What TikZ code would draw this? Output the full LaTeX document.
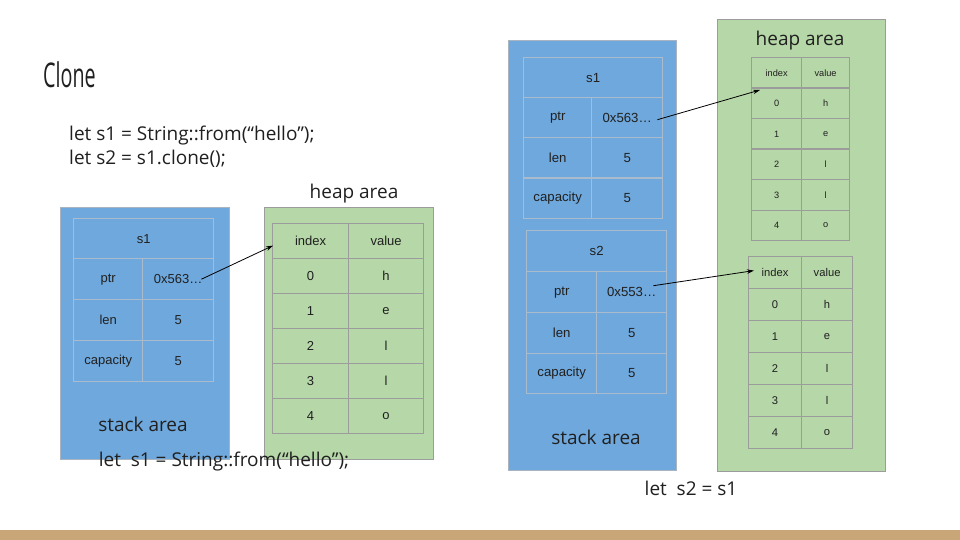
\documentclass[tikz,border=0pt]{standalone}
\usepackage{fontspec}
\setmainfont{Open Sans}
\newfontfamily\arialfont{Liberation Sans}
\newfontfamily\titlefont[FakeStretch=0.58]{Open Sans}
\usetikzlibrary{arrows.meta}
\definecolor{stackblue}{HTML}{6FA8DC}
\definecolor{heapgreen}{HTML}{B6D7A8}
\definecolor{cellgray}{HTML}{9C9C9C}
\definecolor{stackline}{HTML}{A9BBCC}
\definecolor{boxgray}{HTML}{A8B4C0}
\definecolor{bartan}{HTML}{C9A677}
\definecolor{txt}{HTML}{202020}
\newcommand\cellat[6]{\node[cell,minimum width=#4,minimum height=#5] (#1) at (#2,#3) {#6};}
\begin{document}
\begin{tikzpicture}[x=1pt,y=-1pt,
  cell/.style={draw=cellgray, line width=1.2pt, inner sep=0pt, anchor=north west, text=txt},
  stackcells/.style={cell/.append style={draw=stackline, line width=1.4pt}},
  stackbox/.style={draw=boxgray, line width=0.8pt, fill=stackblue, anchor=north west, inner sep=0pt},
  heapbox/.style={draw=cellgray, line width=0.8pt, fill=heapgreen, anchor=north west, inner sep=0pt},
  lbl/.style={inner sep=0pt, text=txt, font=\fontsize{19}{20}\selectfont},
  ptrarrow/.style={draw=black, line width=0.8pt, -{Stealth[length=7pt,width=4.5pt]}}
]
\useasboundingbox (0,0) rectangle (960,540);
\fill[white] (0,0) rectangle (960,540);

% title and code
\node[inner sep=0pt, anchor=west, text=txt, font=\titlefont\fontsize{34}{36}\selectfont] (title) at (43,75) {Clone};
\node[inner sep=0pt, anchor=north west, align=left, text=txt, font=\fontsize{19}{24}\selectfont] (code) at (69,126) {let s1 = String::from(“hello”);\\let s2 = s1.clone();};

% ---------------- left diagram ----------------
\node[stackbox, minimum width=169, minimum height=252] (Lstack) at (60,207) {};
\node[heapbox, minimum width=169, minimum height=252] (Lheap) at (264,207) {};
\node[lbl] (Lheaplbl) at (354,194) {heap area};
\node[lbl] (Lstacklbl) at (143,424) {stack area};
\node[lbl] (Lcaption) at (224,462) {let\ \ s1 = String::from(“hello”);};

\begin{scope}[stackcells, every node/.append style={font=\arialfont\fontsize{13}{15}\selectfont}]
\cellat{Ls1}{73}{218}{140}{40}{s1}
\cellat{Lpk}{73}{258}{69}{41}{ptr}
\cellat{Lpv}{142}{258}{71}{41}{0x563…}
\cellat{Llk}{73}{299}{69}{41}{len}
\cellat{Llv}{142}{299}{71}{41}{5}
\cellat{Lck}{73}{340}{69}{41}{capacity}
\cellat{Lcv}{142}{340}{71}{41}{5}
\end{scope}
\begin{scope}[every node/.append style={font=\arialfont\fontsize{13}{15}\selectfont}]
\cellat{Lhi}{272}{223}{76}{35}{index}
\cellat{Lhv}{348}{223}{75}{35}{value}
\foreach \i/\v in {0/h,1/e,2/l,3/l,4/o}{
  \cellat{Lh\i k}{272}{258+35*\i}{76}{35}{\i}
  \cellat{Lh\i v}{348}{258+35*\i}{75}{35}{\v}
}
\end{scope}
\draw[ptrarrow] ([xshift=-13pt]Lpv.east) -- ([xshift=1pt,yshift=-4.5pt]Lhi.west);

% ---------------- right diagram ----------------
\node[stackbox, minimum width=168, minimum height=430] (Rstack) at (508,40) {};
\node[heapbox, minimum width=168, minimum height=452] (Rheap) at (717,19) {};
\node[lbl] (Rheaplbl) at (800,41) {heap area};
\node[lbl] (Rstacklbl) at (596,437) {stack area};
\node[lbl] (Rcaption) at (691,488) {let\ \ s2 = s1};

\begin{scope}[stackcells, every node/.append style={font=\arialfont\fontsize{13.2}{15}\selectfont}]
\cellat{Rs1}{523}{57}{139}{40}{s1}
\cellat{Rpk}{523}{97}{68}{40}{ptr}
\cellat{Rpv}{591}{97}{71}{40}{0x563…}
\cellat{Rlk}{523}{137}{68}{40.5}{len}
\cellat{Rlv}{591}{137}{71}{40.5}{5}
\cellat{Rck}{523}{177.5}{68}{40.5}{capacity}
\cellat{Rcv}{591}{177.5}{71}{40.5}{5}
\cellat{Rs2}{526}{230}{140}{41}{s2}
\cellat{Sqk}{526}{271}{70}{41}{ptr}
\cellat{Sqv}{596}{271}{70}{41}{0x553…}
\cellat{Slk}{526}{312}{70}{40.5}{len}
\cellat{Slv}{596}{312}{70}{40.5}{5}
\cellat{Sck}{526}{352.5}{70}{40.5}{capacity}
\cellat{Scv}{596}{352.5}{70}{40.5}{5}
\end{scope}

\begin{scope}[every node/.append style={font=\arialfont\fontsize{9.2}{11}\selectfont}]
\cellat{Rhi}{751}{57}{50}{30.5}{index}
\cellat{Rhv}{801}{57}{48}{30.5}{value}
\foreach \i/\v in {0/h,1/e,2/l,3/l,4/o}{
  \cellat{Rh\i k}{751}{87.5+30.5*\i}{50}{30.5}{\i}
  \cellat{Rh\i v}{801}{87.5+30.5*\i}{48}{30.5}{\v}
}
\end{scope}

\begin{scope}[every node/.append style={font=\arialfont\fontsize{11.2}{13}\selectfont}]
\cellat{Thi}{748}{256}{53}{32}{index}
\cellat{Thv}{801}{256}{51}{32}{value}
\foreach \i/\v in {0/h,1/e,2/l,3/l,4/o}{
  \cellat{Th\i k}{748}{288+32*\i}{53}{32}{\i}
  \cellat{Th\i v}{801}{288+32*\i}{51}{32}{\v}
}
\end{scope}

\draw[ptrarrow] ([xshift=-6pt,yshift=-2pt]Rpv.east) -- ([xshift=9pt,yshift=-2.5pt]Rh0k.north west);
\draw[ptrarrow] ([xshift=-14pt,yshift=6.5pt]Sqv.east) -- ([xshift=6pt,yshift=2pt]Thi.west);

% bottom bar
\fill[bartan] (0,530) rectangle (960,540);
\end{tikzpicture}
\end{document}
